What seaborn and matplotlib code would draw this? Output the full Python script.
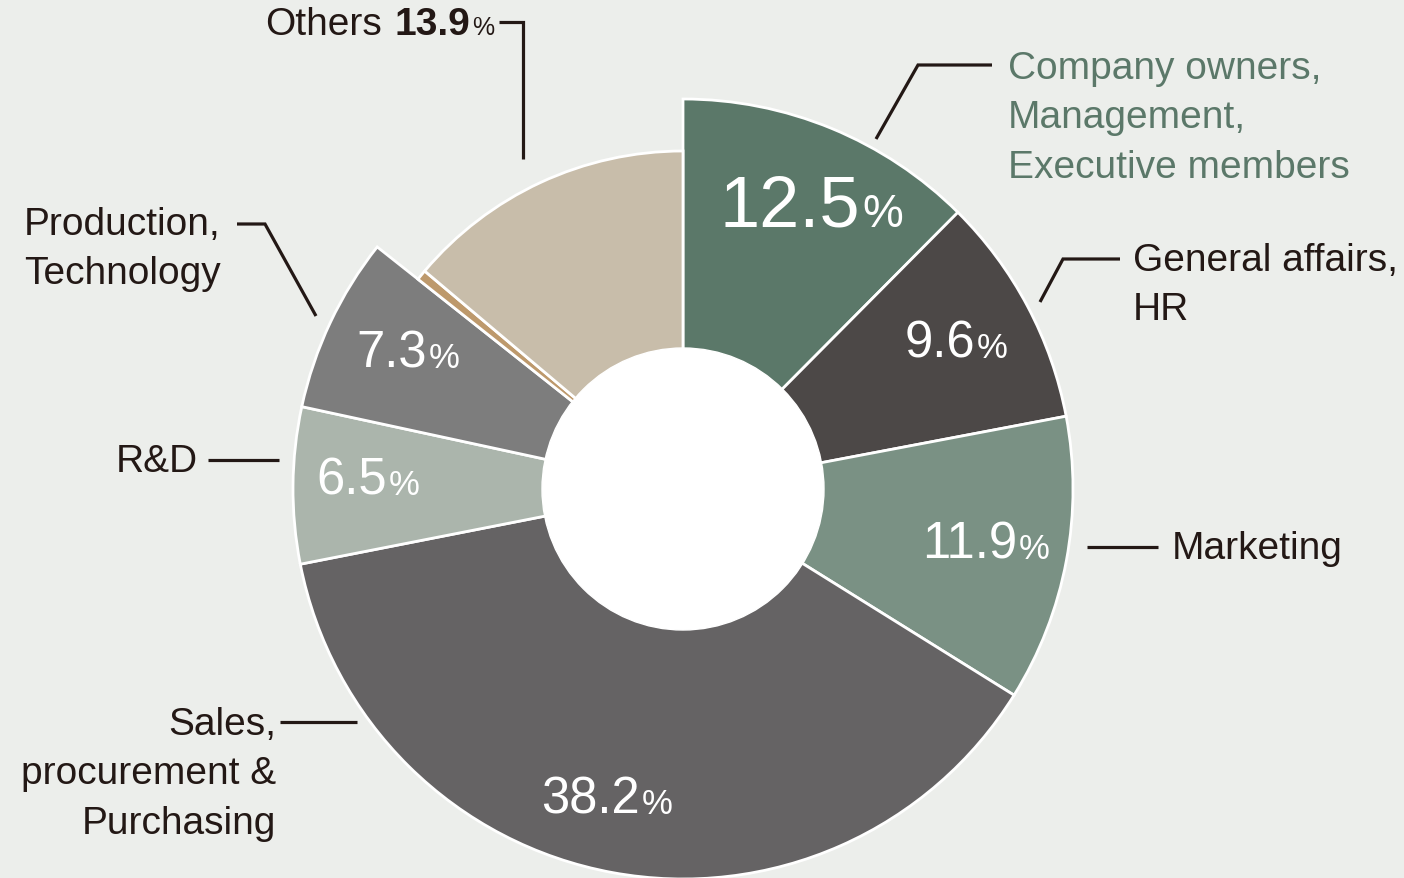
import matplotlib

matplotlib.use("Agg")

import matplotlib.pyplot as plt
import seaborn as sns

# data
categories = ["Company owners", "General affairs", "Marketing", "Sales",
              "R&D", "Production", "Unlabelled", "Others"]
shares = [12.5, 9.6, 11.9, 38.2, 6.5, 7.3, 0.5, 13.9]
share_text = ["12.5", "9.6", "11.9", "38.2", "6.5", "7.3", None, "13.9"]
name_lines = [
    ["Company owners,", "Management,", "Executive members"],
    ["General affairs,", "HR"],
    ["Marketing"],
    ["Sales,", "procurement &", "Purchasing"],
    ["R&D"],
    ["Production,", "Technology"],
    [],
    ["Others"],
]
colors = ["#5b7869", "#4c4847", "#7a9184", "#656364",
          "#abb5ac", "#7d7d7d", "#bd996c", "#c8bdaa"]
small_ring = ["Unlabelled", "Others"]

BG = "#eceeeb"
INK = "#231815"
CENTER = (683, 490)
R_OUT, R_SMALL, R_HOLE = 390, 338, 141

sns.set_theme(style="white")
plt.rcParams["font.family"] = ["Liberation Sans", "DejaVu Sans"]

fig = plt.figure(figsize=(14.04, 8.79), dpi=100, facecolor=BG)
ax = fig.add_axes([0, 0, 1, 1])
ax.set_facecolor(BG)

wedges, _ = ax.pie(shares, colors=colors, center=CENTER, radius=R_OUT,
                   startangle=-90, counterclock=True,
                   wedgeprops=dict(edgecolor="white", linewidth=2.0))
for w, cat in zip(wedges, categories):
    if cat in small_ring:
        w.set_radius(R_SMALL)
ax.add_patch(plt.Circle(CENTER, R_HOLE, color="white", zorder=5))

ax.set_xlim(0, 1404)
ax.set_ylim(879, 0)
ax.set_aspect("equal")
ax.axis("off")

# percentage labels inside the ring: (junction x, baseline y, number pt, % pt)
pct_layout = {
    0: (860, 227, 52, 33),
    1: (975, 358, 36.5, 25),
    2: (1017, 559, 36.5, 25),
    3: (640, 814, 36.5, 25),
    4: (387, 495, 36.5, 25),
    5: (427, 368, 36.5, 25),
}
for i, (x, y, s_num, s_pct) in pct_layout.items():
    ax.text(x, y, share_text[i], color="white", fontsize=s_num,
            ha="right", va="baseline", zorder=6)
    ax.text(x + 2, y, "%", color="white", fontsize=s_pct,
            ha="left", va="baseline", zorder=6)

# category names: (x, first baseline, ha, color)
name_layout = {
    0: (1008, 79, "left", "#5b7869"),
    1: (1133, 271, "left", INK),
    2: (1172, 559, "left", INK),
    3: (276, 735, "right", INK),
    4: (198, 472, "right", INK),
    5: (24, 235, "left", INK),
}
for i, (x, y, ha, col) in name_layout.items():
    for k, line in enumerate(name_lines[i]):
        ax.text(x, y + 49.5 * k, line, color=col, fontsize=28,
                ha=ha, va="baseline")

# Others: name + share above the ring
ax.text(472, 35, "%", color=INK, fontsize=18, ha="left", va="baseline")
ax.text(470, 35, share_text[7], color=INK, fontsize=28, ha="right",
        va="baseline", fontweight="bold")
ax.text(382, 35, name_lines[7][0], color=INK, fontsize=28, ha="right",
        va="baseline")

# leader lines
leaders = [
    [(876, 140), (918, 66), (992, 66)],
    [(1040, 303), (1063, 260), (1120, 260)],
    [(1087, 548), (1158, 548)],
    [(280, 723), (357, 723)],
    [(208, 461), (279, 461)],
    [(237, 225), (265, 225), (316, 317)],
    [(499, 23), (523, 23), (523, 160)],
]
for pts in leaders:
    xs, ys = zip(*pts)
    ax.plot(xs, ys, color=INK, linewidth=2.3, solid_capstyle="butt",
            solid_joinstyle="miter")

fig.savefig("out.png", dpi=100, facecolor=BG)
